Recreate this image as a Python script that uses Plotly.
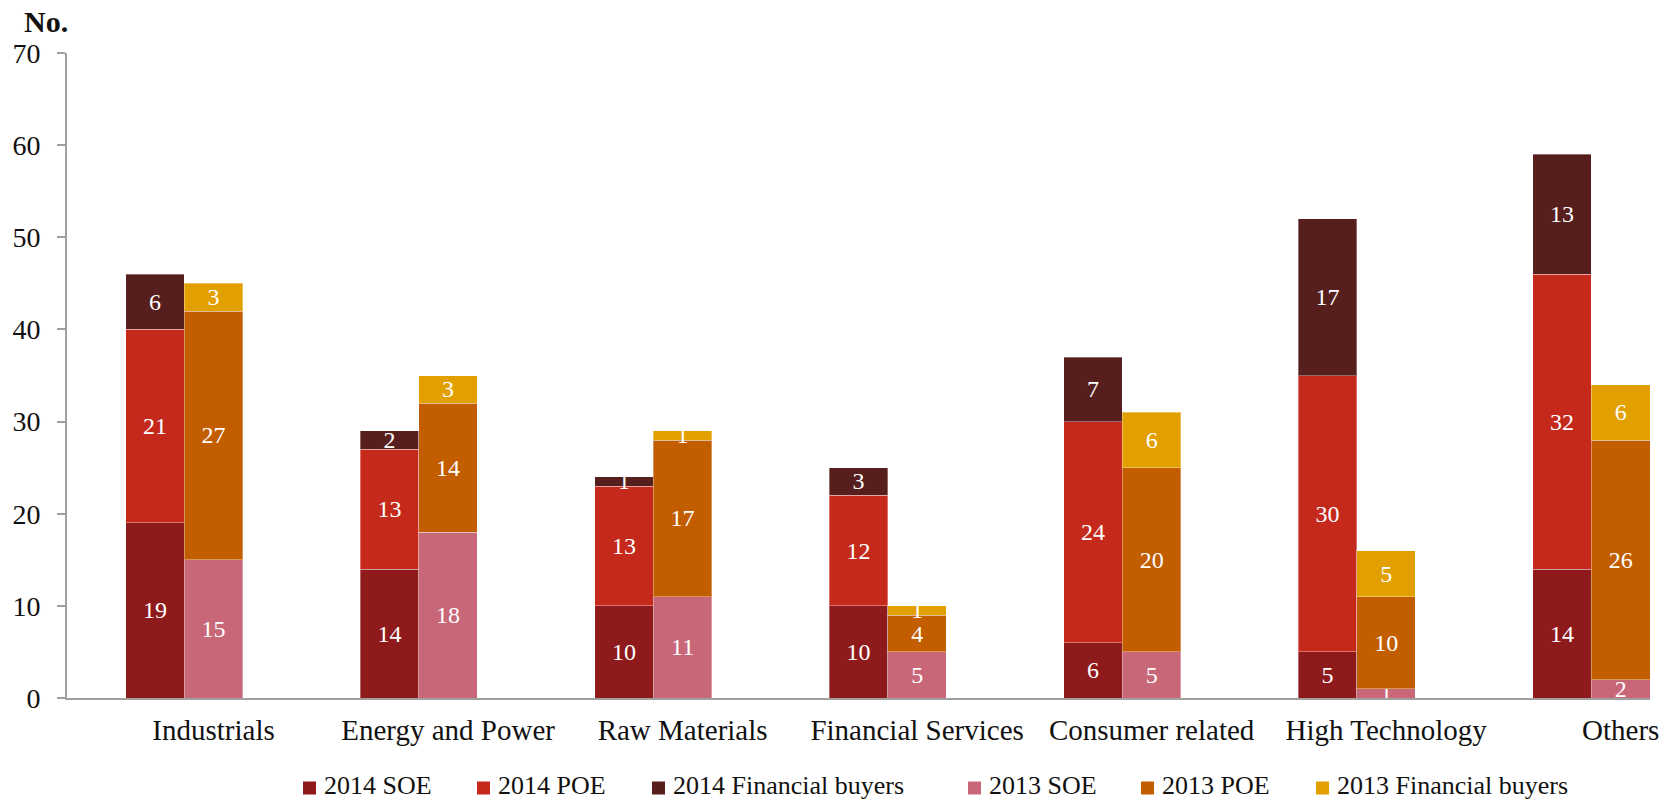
import plotly.graph_objects as go

categories = ["Industrials", "Energy and Power", "Raw Materials", "Financial Services",
              "Consumer related", "High Technology", "Others"]

soe_2014 = [19, 14, 10, 10, 6, 5, 14]
poe_2014 = [21, 13, 13, 12, 24, 30, 32]
fin_2014 = [6, 2, 1, 3, 7, 17, 13]
soe_2013 = [15, 18, 11, 5, 5, 1, 2]
poe_2013 = [27, 14, 17, 4, 20, 10, 26]
fin_2013 = [3, 3, 1, 1, 6, 5, 6]

series_names = ["2014 SOE", "2014 POE", "2014 Financial buyers",
                "2013 SOE", "2013 POE", "2013 Financial buyers"]
series_colors = ["#8F1A1C", "#C5291C", "#561E1C", "#C86777", "#C25D00", "#E2A000"]
y_ticks = [0, 10, 20, 30, 40, 50, 60, 70]

FONT = "Liberation Serif"
W, H = 1674, 802
ML, MR, MT, MB = 67, 24, 53, 104
PW, PH = W - ML - MR, H - MT - MB

idx = list(range(len(categories)))
x2014 = [i - 0.125 for i in idx]
x2013 = [i + 0.125 for i in idx]

fig = go.Figure()
series = [(soe_2014, x2014), (poe_2014, x2014), (fin_2014, x2014),
          (soe_2013, x2013), (poe_2013, x2013), (fin_2013, x2013)]
for (vals, xs), name, col in zip(series, series_names, series_colors):
    fig.add_trace(go.Bar(
        x=xs, y=vals, name=name, width=0.25,
        marker=dict(color=col, line=dict(color="rgba(255,255,255,0.35)", width=1)),
        text=vals, texttemplate="%{text}", textposition="inside",
        insidetextanchor="middle", textangle=0,
        textfont=dict(family=FONT, size=24, color="white"),
        cliponaxis=True, showlegend=False, hoverinfo="x+y+name",
    ))

fig.update_layout(
    barmode="stack",
    width=W, height=H,
    margin=dict(l=ML, r=MR, t=MT, b=MB),
    paper_bgcolor="white", plot_bgcolor="white",
    font=dict(family=FONT, color="#111111"),
    uniformtext=dict(minsize=24, mode="show"),
    xaxis=dict(
        range=[-0.5, 6.25], showgrid=False, zeroline=False,
        showline=True, linecolor="#A0A0A0", linewidth=2,
        tickvals=[i + 0.125 for i in idx], ticktext=categories,
        ticks="", ticklen=0, ticklabelstandoff=5,
        tickfont=dict(family=FONT, size=29, color="#111111"),
    ),
    yaxis=dict(
        range=[0, 70], showgrid=False, zeroline=False,
        showline=True, linecolor="#A0A0A0", linewidth=2,
        tickvals=y_ticks, ticks="outside", ticklen=8, tickcolor="#A0A0A0", tickwidth=2,
        ticklabelstandoff=11,
        tickfont=dict(family=FONT, size=28, color="#111111"),
    ),
)

def px_to_paper_x(px):
    return (px - ML) / PW

def px_to_paper_y(py):
    return (H - MB - py) / PH

# y-axis unit label
fig.add_annotation(text="<b>No.</b>", xref="paper", yref="paper",
                   x=px_to_paper_x(22), y=px_to_paper_y(21), xanchor="left", yanchor="middle",
                   showarrow=False, font=dict(family=FONT, size=30, color="#111111"))

# legend (manual, to match the reference spacing)
legend_left_px = [303, 477, 652, 968, 1141, 1316]
legend_y_px = 786
sq = 13
for name, col, lx in zip(series_names, series_colors, legend_left_px):
    fig.add_shape(type="rect", xref="paper", yref="paper",
                  x0=px_to_paper_x(lx), x1=px_to_paper_x(lx + sq),
                  y0=px_to_paper_y(legend_y_px + 2 + sq / 2), y1=px_to_paper_y(legend_y_px + 2 - sq / 2),
                  fillcolor=col, line=dict(width=0))
    fig.add_annotation(text=name, xref="paper", yref="paper",
                       x=px_to_paper_x(lx + sq + 6), y=px_to_paper_y(legend_y_px),
                       xanchor="left", yanchor="middle", showarrow=False,
                       font=dict(family=FONT, size=26, color="#111111"))

fig.write_html(
    "out.html",
    config={"displayModeBar": False},
    post_script="document.body.style.margin='0';document.body.style.overflow='hidden';",
)
